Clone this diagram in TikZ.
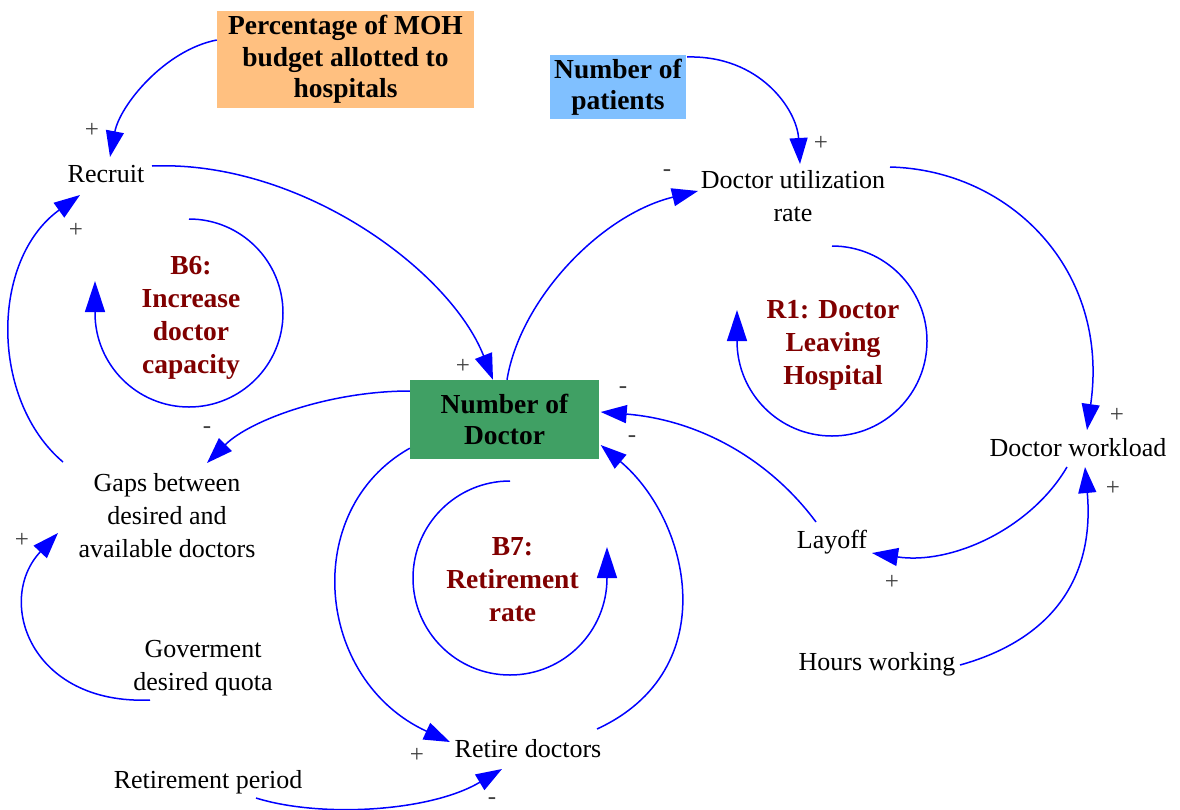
\documentclass[tikz,border=0pt]{standalone}
\usepackage{fontspec}
\setmainfont{Liberation Serif}
\usetikzlibrary{arrows.meta}
\definecolor{linkblue}{RGB}{0,0,255}
\definecolor{loopred}{RGB}{128,0,0}
\definecolor{budgetorange}{RGB}{255,192,128}
\definecolor{patientblue}{RGB}{128,192,255}
\definecolor{doctorgreen}{RGB}{64,160,100}
\begin{document}
\begin{tikzpicture}[x=1pt,y=-1pt,
  var/.style={inner sep=0pt, align=center, font=\fontsize{26}{33}\selectfont},
  stock/.style={inner sep=0pt, align=center, font=\fontsize{27.5}{31.5}\selectfont\bfseries},
  looplabel/.style={inner sep=0pt, align=center, text=loopred, font=\fontsize{27.5}{33}\selectfont\bfseries},
  sign/.style={inner sep=0pt, text=black!75, font=\fontsize{25}{25}\selectfont},
  link/.style={draw=linkblue, line width=1.5pt, -{Triangle[length=26pt,width=18pt]}},
  loopmark/.style={draw=linkblue, line width=1.5pt, -{Triangle[length=31pt,width=20pt]}},
]
% canvas
\fill[white] (0,0) rectangle (1180,809);
\useasboundingbox (0,0) rectangle (1180,809);

% highlighted variables
\node[stock, fill=budgetorange, minimum width=257pt, minimum height=97pt] (pct) at (345.5,59.5) {Percentage of MOH\\budget allotted to\\hospitals};
\node[stock, fill=patientblue, minimum width=136pt, minimum height=64pt] (pat) at (618,87) {Number of\\patients};
\node[stock, fill=doctorgreen, minimum width=189pt, minimum height=79pt] (doc) at (504.5,419.5) {Number of\\Doctor};

% plain variables
\node[var] (recruit) at (106,174) {Recruit};
\node[var] (util) at (793,196) {Doctor utilization\\rate};
\node[var] (work) at (1078,448) {Doctor workload};
\node[var] (gaps) at (167,516) {Gaps between\\desired and\\available doctors};
\node[var] (gov) at (203,668) {Goverment\\desired quota};
\node[var] (layoff) at (832,542) {Layoff};
\node[var] (hours) at (877,664) {Hours working};
\node[var] (retire) at (528,749) {Retire doctors};
\node[var] (period) at (208,782) {Retirement period};

% loop labels
\node[looplabel] (b6) at (191,317.5) {B6:\\Increase\\doctor\\capacity};
\node[looplabel] (r1) at (833,345) {R1: Doctor\\Leaving\\Hospital};
\node[looplabel] (b7) at (512.5,579.5) {B7:\\Retirement\\rate};

% causal links
\draw[link] ([shift={(0,-19.5)}]pct.west) .. controls (165,50) and (120,105) .. ([shift={(4,-17)}]recruit.center);
\draw[link] ([shift={(46,-8)}]recruit.center) .. controls (300,160) and (450,270) .. ([shift={(-11.5,0)}]doc.north);
\draw[link] ([shift={(-104,-54)}]gaps.center) .. controls (-10,400) and (-10,260) .. ([shift={(-26,21)}]recruit.center);
\draw[link] ([shift={(0,-28.5)}]doc.west) .. controls (330,391) and (250,420) .. ([shift={(40,-53)}]gaps.center);
\draw[link] ([shift={(-53,32)}]gov.center) .. controls (30,705) and (-5,600) .. ([shift={(-109,17)}]gaps.center);
\draw[link] ([shift={(69,-30)}]pat.center) .. controls (760,55) and (797,110) .. ([shift={(7,-32)}]util.center);
\draw[link] ([shift={(2.5,0)}]doc.north) .. controls (520,300) and (600,215) .. ([shift={(-95,-5)}]util.center);
\draw[link] ([shift={(97,-29)}]util.center) .. controls (1010,170) and (1110,270) .. ([shift={(9,-18)}]work.center);
\draw[link] ([shift={(-11,19)}]work.center) .. controls (1030,530) and (950,565) .. ([shift={(40,11)}]layoff.center);
\draw[link] ([shift={(83,1)}]hours.center) .. controls (1050,640) and (1095,580) .. ([shift={(7,19)}]work.center);
\draw[link] ([shift={(-16,-20)}]layoff.center) .. controls (770,460) and (700,420) .. ([shift={(1.5,-7.5)}]doc.east);
\draw[link] ([shift={(69,-20)}]retire.center) .. controls (725,670) and (690,520) .. ([shift={(1.5,25.5)}]doc.east);
\draw[link] ([shift={(0,-11)}]doc.south west) .. controls (300,510) and (315,680) .. ([shift={(-78,-7)}]retire.center);
\draw[link] ([shift={(48,16)}]period.center) .. controls (320,818) and (430,812) .. ([shift={(-26,20)}]retire.center);

% loop direction markers
\draw[loopmark] ([shift={(-2,-98.5)}]b6.center) arc[start angle=-90, end angle=180, radius=94] -- ++(0,-32);
\draw[loopmark] ([shift={(-1,-99)}]r1.center) arc[start angle=-90, end angle=180, radius=95] -- ++(0,-31);
\draw[loopmark] ([shift={(-2.5,-98.5)}]b7.center) arc[start angle=270, end angle=0, radius=97] -- ++(0,-31);

% link polarities
\node[sign] (s1) at (92,130) {+};
\node[sign] (s2) at (76,230) {+};
\node[sign] (s3) at (207,430) {-};
\node[sign] (s4) at (22,540) {+};
\node[sign] (s5) at (463,366) {+};
\node[sign] (s6) at (821,143) {+};
\node[sign] (s7) at (667,173) {-};
\node[sign] (s8) at (1117,415) {+};
\node[sign] (s9) at (1113,488) {+};
\node[sign] (s10) at (892,582) {+};
\node[sign] (s11) at (623,390) {-};
\node[sign] (s12) at (632,439) {-};
\node[sign] (s13) at (417,755) {+};
\node[sign] (s14) at (492,801) {-};
\end{tikzpicture}
\end{document}
